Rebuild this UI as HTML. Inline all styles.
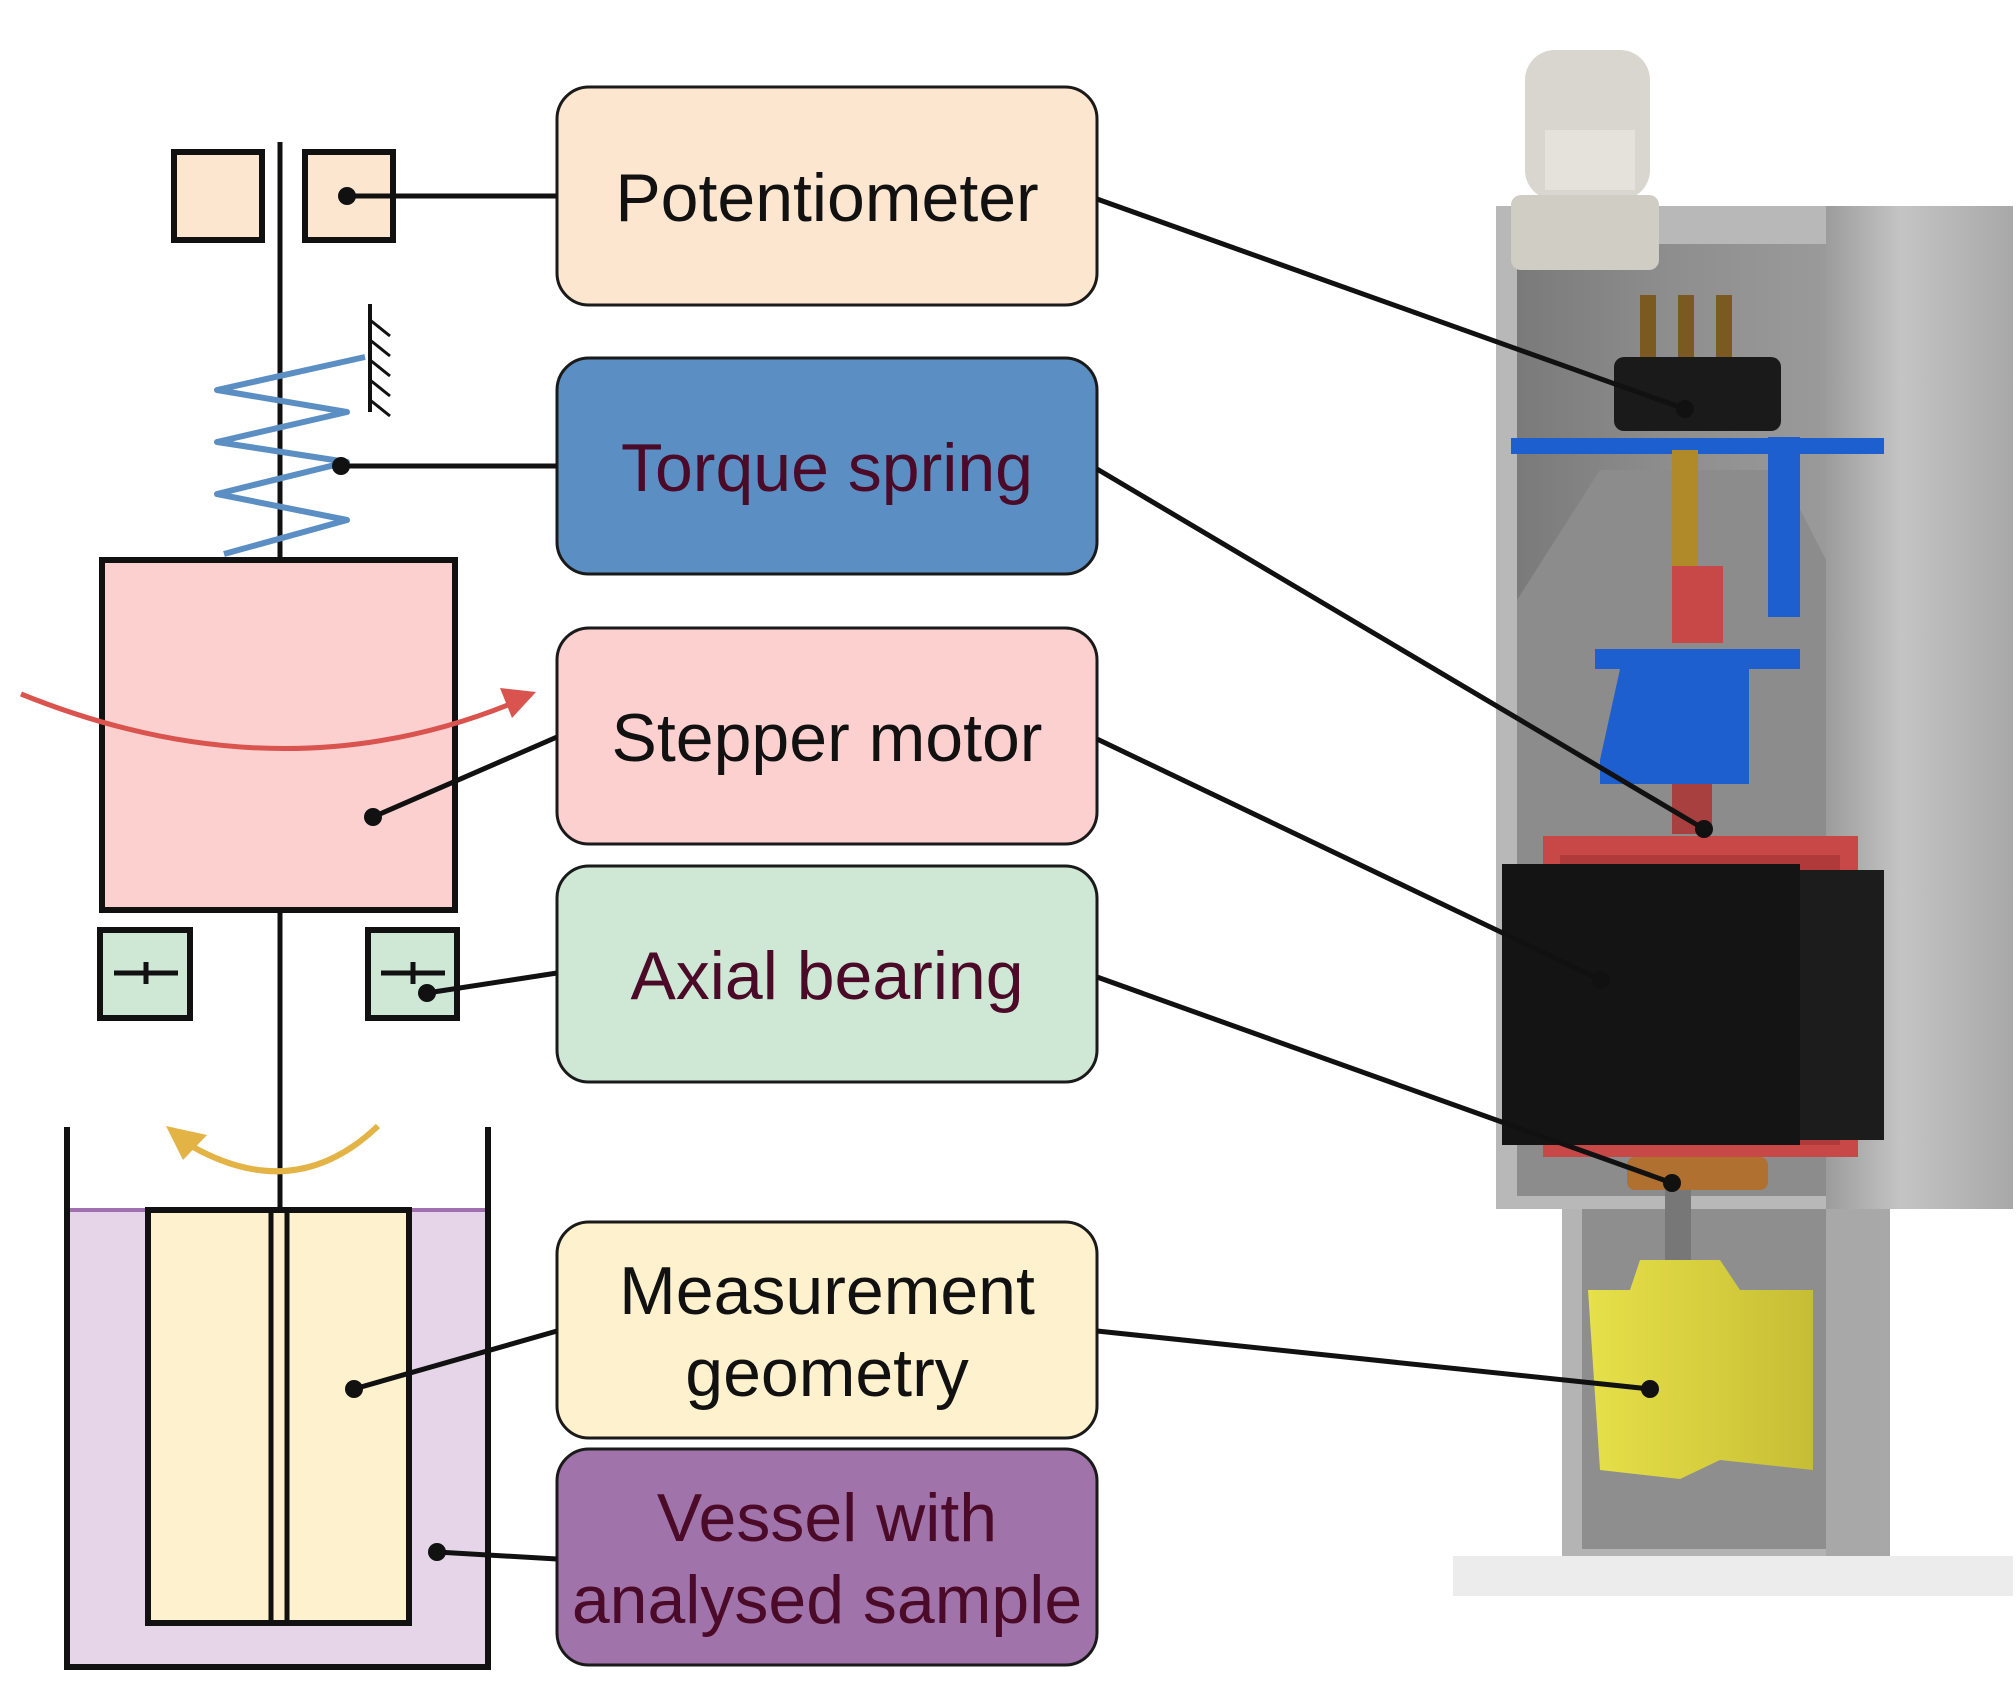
<!DOCTYPE html>
<html><head><meta charset="utf-8"><style>
html,body{margin:0;padding:0;background:#fff;}
svg{display:block;}
text{font-family:"Liberation Sans",sans-serif;}
</style></head><body>
<svg width="2016" height="1689" viewBox="0 0 2016 1689" xmlns="http://www.w3.org/2000/svg">
<defs>
<linearGradient id="cyl" x1="0" x2="1"><stop offset="0" stop-color="#9c9c9c"/><stop offset="0.4" stop-color="#c4c4c4"/><stop offset="1" stop-color="#a8a8a8"/></linearGradient>
<linearGradient id="inner" x1="0" x2="1"><stop offset="0" stop-color="#7a7a7a"/><stop offset="0.5" stop-color="#8e8e8e"/><stop offset="1" stop-color="#9a9a9a"/></linearGradient>
<linearGradient id="yel" x1="0" x2="1"><stop offset="0" stop-color="#e6e04a"/><stop offset="0.6" stop-color="#d4cc3c"/><stop offset="1" stop-color="#c6bd36"/></linearGradient>
</defs>

<rect x="1453" y="1556" width="560" height="40" fill="#ececec"/>
<rect x="1496" y="206" width="517" height="1003" fill="#b8b8b8"/>
<rect x="1826" y="206" width="187" height="1003" fill="url(#cyl)"/>
<rect x="1517" y="244" width="309" height="952" fill="url(#inner)"/>
<polygon points="1517,600 1600,470 1780,470 1826,560 1826,1196 1517,1196" fill="#8c8c8c"/>
<rect x="1562" y="1209" width="328" height="347" fill="#b4b4b4"/>
<rect x="1582" y="1209" width="244" height="340" fill="#8e8e8e"/>
<rect x="1826" y="1209" width="64" height="347" fill="#a8a8a8"/>
<rect x="1525" y="50" width="125" height="150" rx="30" fill="#d8d6ce"/>
<rect x="1511" y="195" width="148" height="75" rx="10" fill="#cfcdc4"/>
<rect x="1545" y="130" width="90" height="60" fill="#e4e2da"/>
<rect x="1640" y="295" width="16" height="70" fill="#7a5a20"/>
<rect x="1678" y="295" width="16" height="70" fill="#7a5a20"/>
<rect x="1716" y="295" width="16" height="70" fill="#7a5a20"/>
<rect x="1614" y="357" width="167" height="74" rx="10" fill="#1a1a1a"/>
<rect x="1511" y="438" width="373" height="16" fill="#1e5fd0"/>
<rect x="1768" y="437" width="32" height="180" fill="#1e5fd0"/>
<rect x="1672" y="450" width="26" height="120" fill="#b08a28"/>
<rect x="1672" y="566" width="51" height="77" fill="#c84848"/>
<rect x="1595" y="649" width="205" height="20" fill="#1e5fd0"/>
<polygon points="1620,669 1749,669 1749,784 1600,784 1600,760" fill="#1e5fd0"/>
<rect x="1672" y="784" width="40" height="50" fill="#a84040"/>
<rect x="1543" y="836" width="315" height="321" fill="#c84848"/>
<rect x="1560" y="855" width="280" height="290" fill="#b03a3a"/>
<rect x="1502" y="864" width="298" height="281" fill="#141414"/>
<rect x="1800" y="870" width="84" height="270" fill="#1c1c1c"/>
<rect x="1627" y="1157" width="141" height="33" rx="8" fill="#b07030"/>
<rect x="1665" y="1190" width="26" height="70" fill="#777"/>
<polygon points="1640,1260 1720,1260 1740,1290 1813,1290 1813,1470 1720,1460 1680,1479 1600,1470 1588,1290 1630,1290" fill="url(#yel)"/>

<g stroke="#1a1a1a" stroke-width="3">
<rect x="557" y="87" width="540" height="218" rx="32" fill="#fde6cf"/>
<rect x="557" y="358" width="540" height="216" rx="32" fill="#5b8fc3"/>
<rect x="557" y="628" width="540" height="216" rx="32" fill="#fdd0d0"/>
<rect x="557" y="866" width="540" height="216" rx="32" fill="#cfe8d5"/>
<rect x="557" y="1222" width="540" height="216" rx="32" fill="#fef1cd"/>
<rect x="557" y="1449" width="540" height="216" rx="32" fill="#a074aa"/>
</g>
<g font-size="68" text-anchor="middle">
<text x="827" y="221" fill="#111">Potentiometer</text>
<text x="827" y="491" fill="#4a0a28">Torque spring</text>
<text x="827" y="761" fill="#111">Stepper motor</text>
<text x="827" y="999" fill="#4a0a28">Axial bearing</text>
<text x="827" y="1314" fill="#111">Measurement</text>
<text x="827" y="1396" fill="#111">geometry</text>
<text x="827" y="1541" fill="#4a0a28">Vessel with</text>
<text x="827" y="1623" fill="#4a0a28">analysed sample</text>
</g>

<rect x="67" y="1210" width="421" height="457" fill="#e6d5e8"/>
<line x1="67" y1="1210" x2="488" y2="1210" stroke="#a070b0" stroke-width="4"/>
<path d="M67,1127 V1667 H488 V1127" fill="none" stroke="#111" stroke-width="6"/>
<rect x="148" y="1210" width="261" height="413" fill="#fef1cd" stroke="#111" stroke-width="6"/>
<line x1="271" y1="1210" x2="271" y2="1623" stroke="#111" stroke-width="5"/>
<line x1="287" y1="1210" x2="287" y2="1623" stroke="#111" stroke-width="5"/>
<line x1="280" y1="910" x2="280" y2="1212" stroke="#111" stroke-width="5"/>
<line x1="280" y1="142" x2="280" y2="560" stroke="#111" stroke-width="5"/>
<rect x="174" y="152" width="88" height="88" fill="#fde6cf" stroke="#111" stroke-width="6"/>
<rect x="305" y="152" width="88" height="88" fill="#fde6cf" stroke="#111" stroke-width="6"/>
<line x1="370" y1="304" x2="370" y2="412" stroke="#111" stroke-width="4"/>
<g stroke="#111" stroke-width="3">
<line x1="370" y1="320" x2="390" y2="336"/><line x1="370" y1="340" x2="390" y2="356"/><line x1="370" y1="360" x2="390" y2="376"/><line x1="370" y1="380" x2="390" y2="396"/><line x1="370" y1="400" x2="390" y2="416"/>
</g>
<polyline points="365,357 217,390 347,412 217,442 347,462 217,494 347,520 224,554" fill="none" stroke="#5b8fc3" stroke-width="6" stroke-linejoin="round"/>
<rect x="102" y="560" width="353" height="350" fill="#fdd0d0" stroke="#111" stroke-width="6"/>
<path d="M21,694 Q283,800 520,700" fill="none" stroke="#d9534f" stroke-width="5"/>
<polygon points="536,692 500,688 512,718" fill="#d9534f"/>
<rect x="100" y="930" width="90" height="88" fill="#cfe8d5" stroke="#111" stroke-width="6"/>
<rect x="368" y="930" width="89" height="88" fill="#cfe8d5" stroke="#111" stroke-width="6"/>
<g stroke="#111" stroke-width="5">
<line x1="114" y1="973" x2="178" y2="973"/><line x1="146" y1="962" x2="146" y2="984"/>
<line x1="381" y1="973" x2="445" y2="973"/><line x1="413" y1="962" x2="413" y2="984"/>
</g>
<path d="M378,1126 Q290,1210 178,1138" fill="none" stroke="#e3b346" stroke-width="6"/>
<polygon points="166,1126 207,1135 183,1160" fill="#e3b346"/>

<g stroke="#111" stroke-width="5" fill="none">
<line x1="347" y1="196" x2="557" y2="196"/>
<line x1="341" y1="466" x2="557" y2="466"/>
<line x1="373" y1="817" x2="557" y2="737"/>
<line x1="427" y1="993" x2="557" y2="973"/>
<line x1="354" y1="1389" x2="557" y2="1331"/>
<line x1="437" y1="1552" x2="557" y2="1559"/>
<line x1="1097" y1="199" x2="1685" y2="409"/>
<line x1="1097" y1="469" x2="1704" y2="829"/>
<line x1="1097" y1="739" x2="1601" y2="980"/>
<line x1="1097" y1="977" x2="1672" y2="1183"/>
<line x1="1097" y1="1331" x2="1650" y2="1389"/>
</g>
<g fill="#111">
<circle cx="347" cy="196" r="9"/><circle cx="341" cy="466" r="9"/><circle cx="373" cy="817" r="9"/>
<circle cx="427" cy="993" r="9"/><circle cx="354" cy="1389" r="9"/><circle cx="437" cy="1552" r="9"/>
<circle cx="1685" cy="409" r="9"/><circle cx="1704" cy="829" r="9"/><circle cx="1601" cy="980" r="9"/>
<circle cx="1672" cy="1183" r="9"/><circle cx="1650" cy="1389" r="9"/>
</g>
</svg>
</body></html>
